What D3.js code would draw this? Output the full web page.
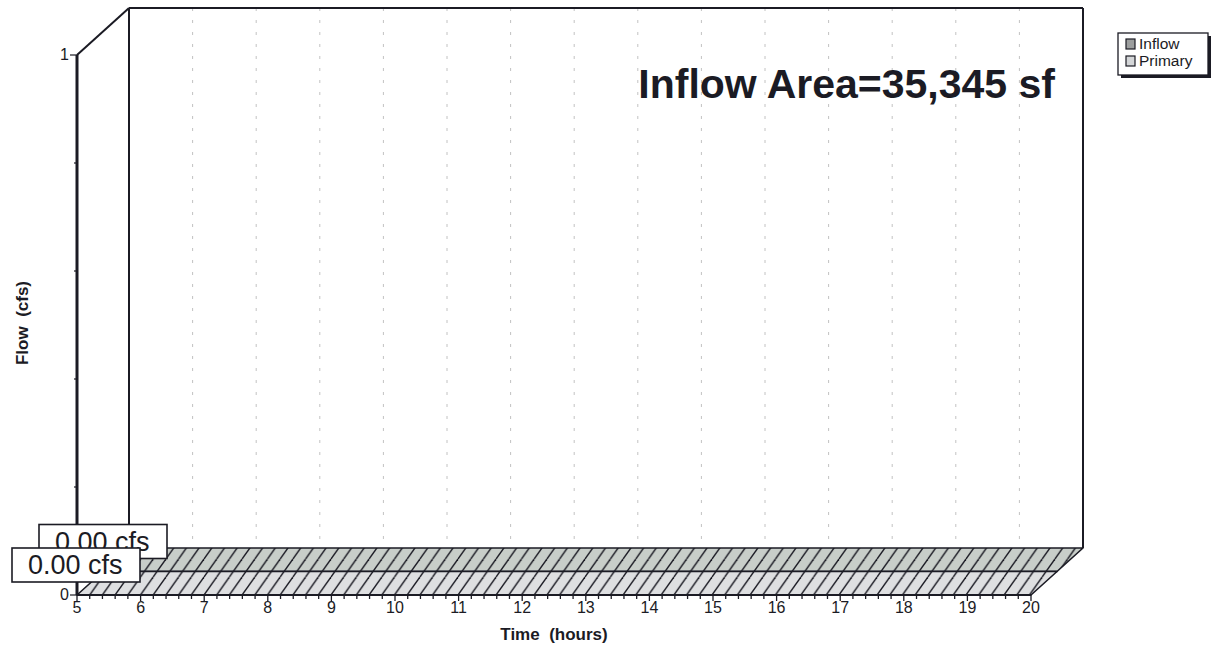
<!DOCTYPE html>
<html><head><meta charset="utf-8">
<script src="https://cdn.jsdelivr.net/npm/d3@7"></script>
<style>
html,body{margin:0;padding:0;background:#fff;}
svg{display:block;font-family:"Liberation Sans",Arial,sans-serif;}
</style></head>
<body><svg id="c" width="1215" height="647"></svg>
<script>
// ---- data ----
const hours = [5,6,7,8,9,10,11,12,13,14,15,16,17,18,19,20];
const inflowValues  = [0,0,0,0,0,0,0,0,0,0,0,0,0,0,0,0];
const primaryValues = [0,0,0,0,0,0,0,0,0,0,0,0,0,0,0,0];
const seriesNames = ["Inflow","Primary"];
const peakLabels = ["0.00 cfs","0.00 cfs"];
const yTicks = [0,1];
const yMinorTicks = [0.2,0.4,0.6,0.8];
const areaNote = "Inflow Area=35,345 sf";
const xTitle = "Time  (hours)";
const yTitle = "Flow  (cfs)";

const svg = d3.select("#c");
const x = d3.scaleLinear().domain([5,20]).range([77,1031]);
const y = d3.scaleLinear().domain([0,1]).range([595,55]);
const DX = 52, DY = -47;
const ink = "#1b1b24";

// hatch patterns
const defs = svg.append("defs");
const fills = {Inflow:"#c8cec9", Primary:"#dedfe1"};
seriesNames.forEach(n=>{
  const w=12.7,h=18;
  const p=defs.append("pattern").attr("id","h"+n).attr("patternUnits","userSpaceOnUse")
    .attr("width",w).attr("height",h).attr("x",x(5)).attr("y",y(0));
  p.append("rect").attr("width",w).attr("height",h).attr("fill",fills[n]);
  [-w,0,w].forEach(o=>p.append("line").attr("x1",o).attr("y1",h).attr("x2",o+w).attr("y2",0)
     .attr("stroke",ink).attr("stroke-width",1.4));
});

// back wall grid lines
const gridHours = hours.filter(h=>h>5&&h<20);
svg.append("g").selectAll("line").data(gridHours).join("line")
  .attr("x1",d=>x(d)+DX).attr("x2",d=>x(d)+DX)
  .attr("y1",y(1)+DY).attr("y2",y(0)+DY)
  .attr("stroke","#c2c2c2").attr("stroke-width",1).attr("stroke-dasharray","3,9");

// walls
const wall = svg.append("g").attr("fill","none").attr("stroke",ink);
wall.append("line").attr("x1",x(5)+DX).attr("y1",y(1)+DY).attr("x2",x(20)+DX).attr("y2",y(1)+DY).attr("stroke-width",2);
wall.append("line").attr("x1",x(5)).attr("y1",y(1)).attr("x2",x(5)+DX).attr("y2",y(1)+DY).attr("stroke-width",2);
wall.append("line").attr("x1",x(5)+DX).attr("y1",y(1)+DY).attr("x2",x(5)+DX).attr("y2",y(0)+DY).attr("stroke-width",2);
wall.append("line").attr("x1",x(20)+DX).attr("y1",y(1)+DY).attr("x2",x(20)+DX).attr("y2",y(0)+DY).attr("stroke-width",2);

// 3D ribbons
const series = [
  {name:"Inflow", values:inflowValues, f0:0.5, f1:1},
  {name:"Primary", values:primaryValues, f0:0, f1:0.5}
];
series.forEach(s=>{
  const pts = hours.map((h,i)=>({h,v:s.values[i]}));
  const front = pts.map(p=>[x(p.h)+DX*s.f0, y(p.v)+DY*s.f0]);
  const back = pts.map(p=>[x(p.h)+DX*s.f1, y(p.v)+DY*s.f1]).reverse();
  svg.append("path").attr("d",d3.line()(front.concat(back))+"Z")
    .attr("fill","url(#h"+s.name+")").attr("stroke",ink).attr("stroke-width",1.6).attr("stroke-linejoin","round");
  const area = d3.area().x(p=>x(p.h)+DX*s.f0).y0(y(0)+DY*s.f0).y1(p=>y(p.v)+DY*s.f0);
  svg.append("path").attr("d",area(pts)).attr("fill",fills[s.name]).attr("stroke",ink).attr("stroke-width",1.6);
});

// front y axis line
svg.append("line").attr("x1",x(5)).attr("x2",x(5)).attr("y1",y(1)).attr("y2",y(0))
  .attr("stroke",ink).attr("stroke-width",3);
svg.append("line").attr("x1",x(5)).attr("x2",x(20)).attr("y1",y(0)).attr("y2",y(0))
  .attr("stroke",ink).attr("stroke-width",2);

// y ticks
const yg = svg.append("g");
yg.selectAll("line.maj").data(yTicks).join("line").attr("class","maj")
  .attr("x1",x(5)-7).attr("x2",x(5)).attr("y1",d=>y(d)).attr("y2",d=>y(d)).attr("stroke",ink).attr("stroke-width",1.2);
yg.selectAll("line.min").data(yMinorTicks).join("line").attr("class","min")
  .attr("x1",x(5)-3).attr("x2",x(5)).attr("y1",d=>y(d)).attr("y2",d=>y(d)).attr("stroke",ink).attr("stroke-width",1.2);
yg.selectAll("text").data(yTicks).join("text")
  .attr("x",x(5)-8).attr("y",d=>y(d)+5).attr("text-anchor","end").attr("font-size",16).attr("fill",ink).text(d=>d);

// x ticks
const xg = svg.append("g");
xg.selectAll("line.maj").data(hours).join("line").attr("class","maj")
  .attr("x1",d=>x(d)).attr("x2",d=>x(d)).attr("y1",y(0)).attr("y2",y(0)+6).attr("stroke",ink).attr("stroke-width",1.3);
const minors = [];
hours.slice(0,-1).forEach(h=>{for(let k=1;k<5;k++) minors.push(h+k/5);});
xg.selectAll("line.min").data(minors).join("line").attr("class","min")
  .attr("x1",d=>x(d)).attr("x2",d=>x(d)).attr("y1",y(0)+1).attr("y2",y(0)+4).attr("stroke",ink).attr("stroke-width",1.3);
xg.selectAll("text").data(hours).join("text")
  .attr("x",d=>x(d)).attr("y",y(0)+18).attr("text-anchor","middle").attr("font-size",16).attr("fill",ink).text(d=>d);

// axis titles
svg.append("text").attr("x",554).attr("y",640).attr("text-anchor","middle")
  .attr("font-size",17).attr("font-weight","bold").attr("fill",ink).attr("xml:space","preserve").text(xTitle);
svg.append("text").attr("transform","translate(28,323) rotate(-90)").attr("text-anchor","middle")
  .attr("font-size",17).attr("font-weight","bold").attr("fill",ink).attr("xml:space","preserve").text(yTitle);

// area note
svg.append("text").attr("x",1055).attr("y",98).attr("text-anchor","end")
  .attr("font-size",41).attr("font-weight","bold").attr("fill",ink).text(areaNote);

// peak labels (back series first)
const labelPos = [
  {s:0, bx: x(5)-38, by: y(0)+DY*0.5-47},
  {s:1, bx: x(5)-65, by: y(0)-47}
];
labelPos.forEach(l=>{
  const g = svg.append("g");
  g.append("rect").attr("x",l.bx).attr("y",l.by).attr("width",128).attr("height",34)
    .attr("fill","#fff").attr("stroke",ink).attr("stroke-width",1.6);
  g.append("text").attr("x",l.bx+16).attr("y",l.by+26)
    .attr("font-size",27).attr("fill",ink).text(peakLabels[l.s]);
});

// legend
const lg = svg.append("g");
lg.append("rect").attr("x",1121).attr("y",36).attr("width",90).attr("height",42).attr("fill",ink);
lg.append("rect").attr("x",1118).attr("y",33).attr("width",90).attr("height",42)
  .attr("fill","#fff").attr("stroke",ink).attr("stroke-width",1.3);
const swatch = {Inflow:"#9c9e9e", Primary:"#d4d6d8"};
seriesNames.forEach((n,i)=>{
  lg.append("rect").attr("x",1126).attr("y",39+i*17).attr("width",9).attr("height",10)
    .attr("fill",swatch[n]).attr("stroke",ink).attr("stroke-width",1.2);
  lg.append("text").attr("x",1139).attr("y",49+i*17).attr("font-size",15.5).attr("fill",ink).text(n);
});
</script></body></html>
